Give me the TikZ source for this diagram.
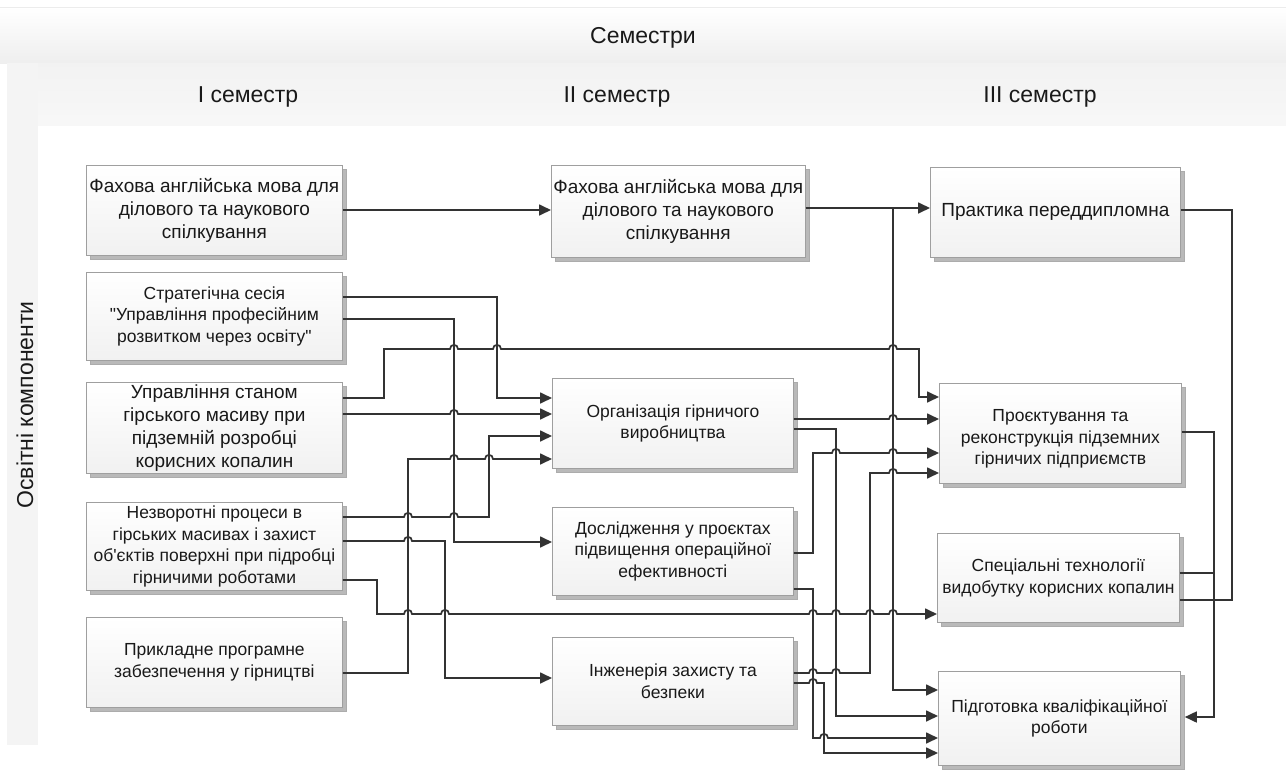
\documentclass[tikz,border=0pt]{standalone}
\usepackage{fontspec}
\setmainfont{Liberation Sans}[Ligatures=TeXOff]
\usetikzlibrary{arrows.meta,shadows}
\newcommand\jmp[2]{-- ({#1-4},#2) .. controls ({#1-4},{#2-5.5}) and ({#1+4},{#2-5.5}) .. ({#1+4},#2)}
\begin{document}
\begin{tikzpicture}[x=1pt,y=-1pt,
  box/.style={draw=gray!75, line width=0.8pt, top color=white, bottom color=gray!11,
    anchor=north west, align=center, inner sep=2pt, text=black!90,
    font=\fontsize{17.5}{21.7}\selectfont,
    general shadow={fill=gray!55, draw=gray!65, shadow xshift=4pt, shadow yshift=-4pt}},
  bigtext/.style={font=\fontsize{19}{23}\selectfont},
  conn/.style={draw=black!80, line width=1.7pt},
  arr/.style={conn, -{Triangle[length=12pt,width=11pt]}},
  hdr/.style={font=\fontsize{23}{27}\selectfont, text=black!90}
]
\useasboundingbox (0,0) rectangle (1286,771);
\fill[white] (0,0) rectangle (1286,771);
% header bands
\shade[top color=white, bottom color=gray!13] (0,7) rectangle (1286,63);
\draw[gray!15, line width=0.6pt] (0,7) -- (1286,7);
\shade[top color=gray!10, bottom color=gray!6] (38,63) rectangle (1286,125);
\fill[gray!9] (7,63) rectangle (38,745);
\node[hdr] (sem) at (643,38) {Семестри};
\node[hdr] (s1) at (248,97) {I семестр};
\node[hdr] (s2) at (617,97) {II семестр};
\node[hdr] (s3) at (1040,97) {III семестр};
\node[hdr, rotate=90] (oc) at (25,405) {Освітні компоненти};

% boxes column 1
\node[box, bigtext, minimum width=256pt, minimum height=90pt] (A1) at (86,165)
  {Фахова англійська мова для\\ділового та наукового\\спілкування};
\node[box, minimum width=256pt, minimum height=88pt] (A2) at (86,272)
  {Стратегічна сесія\\"Управління професійним\\розвитком через освіту"};
\node[box, bigtext, minimum width=256pt, minimum height=90pt] (A3) at (86,382)
  {Управління станом\\гірського масиву при\\підземній розробці\\корисних копалин};
\node[box, minimum width=256pt, minimum height=88pt] (A4) at (86,502)
  {Незворотні процеси в\\гірських масивах і захист\\об'єктів поверхні при підробці\\гірничими роботами};
\node[box, minimum width=256pt, minimum height=90pt] (A5) at (86,617)
  {Прикладне програмне\\забезпечення у гірництві};

% column 2
\node[box, bigtext, minimum width=249pt, minimum height=92pt] (B1) at (551,165)
  {Фахова англійська мова для\\ділового та наукового\\спілкування};
\node[box, minimum width=241pt, minimum height=90pt] (B2) at (552,378)
  {Організація гірничого\\виробництва};
\node[box, minimum width=241pt, minimum height=88pt] (B3) at (552,507)
  {Дослідження у проєктах\\підвищення операційної\\ефективності};
\node[box, minimum width=241pt, minimum height=88pt] (B4) at (552,637)
  {Інженерія захисту та\\безпеки};

% column 3
\node[box, bigtext, minimum width=250pt, minimum height=90pt] (C1) at (930,167)
  {Практика переддипломна};
\node[box, minimum width=242pt, minimum height=100pt] (C2) at (939,383)
  {\rule{0pt}{23pt}Проєктування та\\реконструкція підземних\\гірничих підприємств};
\node[box, minimum width=242pt, minimum height=89pt] (C3) at (937,533)
  {Спеціальні технології\\видобутку корисних копалин};
\node[box, minimum width=242pt, minimum height=94pt] (C4) at (938,671)
  {Підготовка кваліфікаційної\\роботи};

% connectors
\draw[arr] (A1.east |- 0,210) -- (B1.west |- 0,210);
\draw[arr] (B1.east |- 0,208) -- (C1.west |- 0,208);
\draw[arr] (B1.east |- 0,208) -- (893,208) -- (893,690) -- (C4.west |- 0,690);
\draw[arr] (A2.east |- 0,297) -- (497,297) -- (497,398) -- (B2.west |- 0,398);
\draw[arr] (A2.east |- 0,319) -- (454,319) -- (454,542) -- (B3.west |- 0,542);
\draw[arr] (A3.east |- 0,398) -- (384,398) -- (384,349) \jmp{454}{349} \jmp{497}{349} \jmp{893}{349} -- (919,349) -- (919,397) -- (C2.west |- 0,397);
\draw[arr] (A3.east |- 0,414) \jmp{454}{414} -- (B2.west |- 0,414);
\draw[arr] (A4.east |- 0,517) \jmp{408}{517} \jmp{454}{517} -- (489,517) -- (489,436) -- (B2.west |- 0,436);
\draw[arr] (A5.east |- 0,673) -- (408,673) -- (408,459) \jmp{454}{459} \jmp{489}{459} -- (B2.west |- 0,459);
\draw[arr] (A4.east |- 0,541) \jmp{408}{541} -- (445,541) -- (445,678) -- (B4.west |- 0,678);
\draw[arr] (A4.east |- 0,580) -- (377,580) -- (377,614) \jmp{408}{614} \jmp{445}{614} \jmp{813}{614} \jmp{836}{614} \jmp{870}{614} \jmp{893}{614} -- (C3.west |- 0,614);
\draw[arr] (B2.east |- 0,419) \jmp{893}{419} -- (C2.west |- 0,419);
\draw[arr] (B2.east |- 0,429) -- (836,429) -- (836,716) -- (C4.west |- 0,716);
\draw[arr] (B3.east |- 0,553) -- (813,553) -- (813,453) \jmp{836}{453} \jmp{893}{453} -- (C2.west |- 0,453);
\draw[arr] (B3.east |- 0,589) -- (813,589) -- (813,738) \jmp{824}{738} -- (C4.west |- 0,738);
\draw[arr] (B4.east |- 0,673) \jmp{813}{673} \jmp{836}{673} -- (870,673) -- (870,473) \jmp{893}{473} -- (C2.west |- 0,473);
\draw[arr] (B4.east |- 0,683) \jmp{813}{683} -- (824,683) -- (824,753) -- (C4.west |- 0,753);
\draw[conn] (C1.east |- 0,210) -- (1232,210) -- (1232,600) -- (C3.east |- 0,600);
\draw[arr, shorten >=4pt] (C2.east |- 0,432) -- (1214,432) -- (1214,717) -- (C4.east |- 0,717);
\draw[conn] (C3.east |- 0,573) -- (1214,573);
\end{tikzpicture}
\end{document}
